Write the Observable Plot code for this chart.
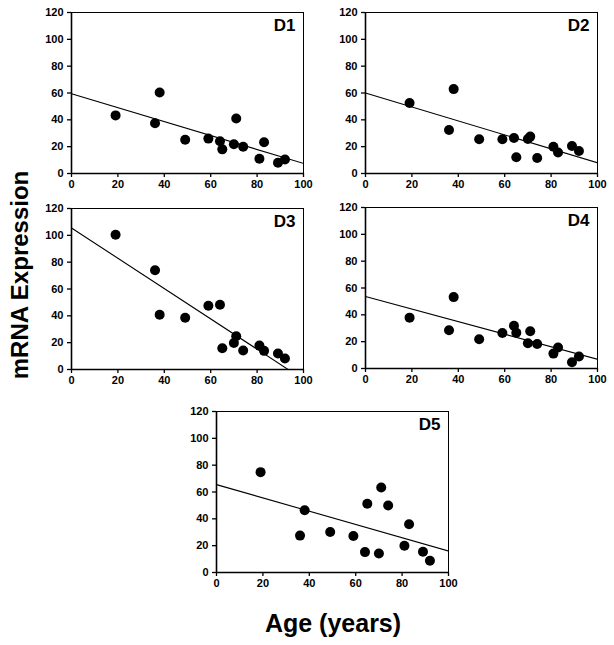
<!DOCTYPE html>
<html><head><meta charset="utf-8">
<script src="https://cdn.jsdelivr.net/npm/d3@7"></script>
<script src="https://cdn.jsdelivr.net/npm/@observablehq/plot@0.6"></script>
<style>
body{margin:0;background:#fff;}
#fig{position:relative;width:614px;height:645px;font-family:"Liberation Sans",Arial,sans-serif;overflow:hidden;}
.panel{position:absolute;}
.panel text{font-weight:bold;}
.lab{position:absolute;font-weight:bold;white-space:nowrap;color:#000;}
</style>
</head><body>
<div id="fig"></div>
<script>
const ages = [19, 36, 38, 49, 59, 64, 65, 70, 71, 74, 81, 83, 89, 92];
const d1 = [43.3, 37.4, 60.4, 25.2, 26, 24, 18, 21.8, 41, 20, 11, 23.3, 8, 10.4];
const d2 = [52.5, 32.4, 62.9, 25.5, 25.5, 26.5, 12.1, 25.7, 27.5, 11.6, 20, 15.6, 20.5, 16.8];
const d3 = [100.5, 74, 40.8, 38.6, 47.5, 48.3, 15.8, 19.8, 24.8, 14.1, 17.8, 13.9, 11.9, 8.2];
const d4 = [37.9, 28.5, 53.2, 21.8, 26.5, 31.9, 26.7, 18.8, 27.7, 18.3, 11.1, 15.6, 4.7, 8.9];
const d5 = [74.8, 27.5, 46.4, 30.2, 27.2, 15.2, 51.3, 14.2, 63.3, 50, 19.9, 36, 15.5, 8.8];
const panelNames = ["D1", "D2", "D3", "D4", "D5"];
const fitAt0 = [59.5, 60, 105.5, 53.6, 65.5];
const fitAt100 = [7.5, 8, -7.5, 6.9, 16];
const xTicks = [0, 20, 40, 60, 80, 100];
const yTicks = [0, 20, 40, 60, 80, 100, 120];
const yLabel = "mRNA Expression";
const xLabel = "Age (years)";

const series = [d1, d2, d3, d4, d5];
const positions = [[36, 0], [330, 0], [36, 196], [330, 195], [181, 399]];
const fig = document.getElementById("fig");

series.forEach((vals, k) => {
  const pts = ages.map((a, i) => ({age: a, val: vals[i]}));
  const fit = [{age: 0, val: fitAt0[k]}, {age: 100, val: fitAt100[k]}];
  const p = Plot.plot({
    width: 279, height: 195,
    marginLeft: 35, marginRight: 12, marginTop: 12, marginBottom: 22,
    style: {fontFamily: '"Liberation Sans", Arial, sans-serif', fontSize: "11px", color: "#000", background: "#fff"},
    x: {domain: [0, 100], axis: null},
    y: {domain: [0, 120], axis: null},
    marks: [
      Plot.frame({stroke: "#000", strokeWidth: 1}),
      Plot.ruleX([0], {stroke: "#000", strokeWidth: 1.6}),
      Plot.ruleY([0], {stroke: "#000", strokeWidth: 1.6}),
      Plot.axisX(xTicks, {label: null, tickSize: 4, tickPadding: 3, stroke: "#000", fill: "#000", strokeWidth: 1.3}),
      Plot.axisY(yTicks, {label: null, tickSize: 4, tickPadding: 4, stroke: "#000", fill: "#000", strokeWidth: 1.3}),
      Plot.line(fit, {x: "age", y: "val", stroke: "#000", strokeWidth: 1.1, clip: true}),
      Plot.dot(pts, {x: "age", y: "val", r: 5, fill: "#000", stroke: "none"}),
      Plot.text([panelNames[k]], {frameAnchor: "top-right", dx: -8, dy: 6, fontSize: 17, fontWeight: "bold", fill: "#000"})
    ]
  });
  p.classList.add("panel");
  p.style.left = positions[k][0] + "px";
  p.style.top = positions[k][1] + "px";
  fig.appendChild(p);
});

const yl = document.createElement("div");
yl.className = "lab";
yl.textContent = yLabel;
yl.style.fontSize = "24px";
yl.style.left = "20px";
yl.style.top = "275px";
yl.style.transform = "translate(-50%,-50%) rotate(-90deg)";
fig.appendChild(yl);

const xl = document.createElement("div");
xl.className = "lab";
xl.textContent = xLabel;
xl.style.fontSize = "25px";
xl.style.left = "333px";
xl.style.top = "623px";
xl.style.transform = "translate(-50%,-50%)";
fig.appendChild(xl);
</script>
</body></html>
